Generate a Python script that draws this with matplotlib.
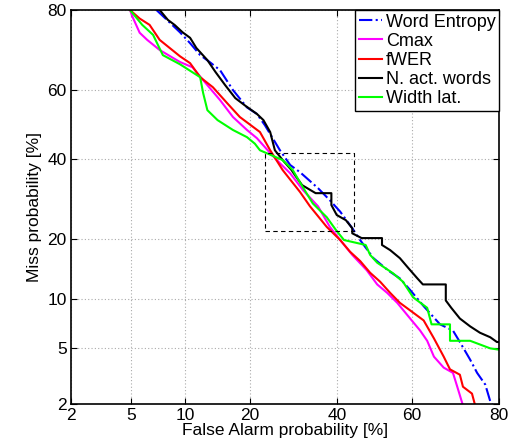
import numpy as np
import matplotlib
matplotlib.use("Agg")
import matplotlib.pyplot as plt
from statistics import NormalDist

# ---- data (False alarm %, Miss %) ----
we_fa = [7.0, 8.3, 9.4, 10.6, 11.9, 13.3, 14.8, 16.9, 19.4, 21.3, 22.9, 26.1, 28.4, 30.7, 35.1, 38.1,
         40.8, 44.0, 46.1, 49.7, 53.6, 56.8, 59.5, 63.0, 67.1, 70.2, 71.8, 74.1, 75.6, 77.3, 78.3, 78.7]
we_miss = [80, 77.3, 75.1, 72.5, 69.5, 67.6, 65.5, 60.0, 55.0, 53.1, 49.8, 42.5, 38.3, 36.3, 32.0, 28.9,
           26.1, 22.3, 19.8, 16.3, 14.2, 12.9, 11.2, 9.1, 7.1, 6.5, 5.5, 4.2, 3.4, 2.8, 2.1, 2.0]

cm_fa = [4.9, 5.1, 5.6, 6.2, 7.3, 9.4, 10.9, 12.3, 14.8, 16.9, 19.4, 21.3, 24.0, 26.1, 28.4, 31.4,
         35.1, 38.1, 40.8, 44.0, 47.9, 50.7, 53.4, 56.1, 59.5, 62.1, 63.9, 65.6, 68.0, 70.2, 71.2, 72.4]
cm_miss = [80, 78.4, 75.0, 73.3, 70.8, 67.7, 66.3, 62.8, 57.1, 52.2, 48.4, 46.0, 41.7, 38.8, 36.0, 31.5,
           27.4, 22.6, 19.8, 16.9, 14.2, 12.0, 10.8, 9.5, 7.7, 6.5, 5.6, 4.4, 3.7, 3.4, 2.7, 2.0]

fw_fa = [4.9, 5.6, 6.4, 7.3, 9.4, 10.6, 11.9, 13.7, 15.9, 18.1, 21.9, 24.0, 26.7, 30.7, 33.1, 37.3,
         40.8, 43.4, 46.1, 48.8, 51.5, 54.2, 56.8, 59.5, 63.0, 65.6, 68.0, 69.5, 71.8, 72.5, 74.5, 75.1]
fw_miss = [80, 78.2, 76.8, 73.3, 69.2, 67.4, 63.6, 60.8, 56.3, 52.2, 47.8, 42.5, 36.9, 31.0, 27.4, 22.6,
           19.8, 17.5, 15.8, 13.8, 12.4, 10.8, 9.5, 8.6, 7.5, 5.8, 4.4, 3.6, 3.3, 2.7, 2.4, 2.0]

na_fa = [7.3, 8.1, 8.8, 9.7, 10.6, 11.4, 12.9, 14.1, 15.6, 17.3, 19.0, 21.3, 22.6, 24.0, 25.0, 26.7,
         28.7, 29.8, 31.2, 34.5, 38.5, 38.5, 39.9, 42.3, 44.0, 44.0, 46.5, 52.0, 52.0, 54.2, 56.8, 59.0,
         61.4, 62.8, 68.5, 68.5, 69.8, 71.8, 74.1, 76.2, 78.3, 79.6, 80.0]
na_miss = [80, 77.9, 76.8, 75.1, 73.8, 71.3, 68.2, 65.0, 61.4, 57.7, 55.6, 53.1, 51.3, 47.8, 42.5, 39.7,
           36.9, 35.0, 32.8, 30.7, 30.7, 27.7, 25.3, 24.1, 22.3, 21.2, 20.2, 20.2, 18.8, 17.8, 16.3, 14.6,
           12.9, 12.0, 12.0, 9.8, 8.9, 7.7, 6.9, 6.3, 5.9, 5.5, 5.5]

wl_fa = [4.9, 5.8, 6.7, 7.6, 9.4, 11.9, 12.3, 12.9, 14.4, 16.9, 19.4, 20.9, 21.9, 23.2, 26.7, 29.0,
         31.4, 33.8, 37.3, 39.7, 41.8, 47.6, 48.8, 50.7, 55.0, 57.6, 60.3, 63.9, 65.0, 69.5, 69.5, 74.1,
         78.3, 80.0]
wl_miss = [80, 76.8, 74.5, 69.5, 67.1, 63.6, 59.2, 54.2, 51.3, 48.4, 46.3, 44.4, 42.5, 41.7, 39.7, 36.9,
           32.2, 28.1, 24.8, 21.9, 19.8, 18.8, 16.9, 15.5, 13.7, 12.4, 10.2, 8.9, 7.1, 7.1, 5.6, 5.6,
           5.0, 4.9]

zoom_fa = [23.0, 44.5]
zoom_miss = [21.6, 41.8]

tick_vals = [2, 5, 10, 20, 40, 60, 80]
tick_labels = ["2", "5", "10", "20", "40", "60", "80"]

# ---- probit scale ----
_nd = NormalDist()
_icdf = np.vectorize(_nd.inv_cdf, otypes=[float])
_cdf = np.vectorize(_nd.cdf, otypes=[float])

def fwd(p):
    p = np.clip(np.asarray(p, float) / 100.0, 1e-9, 1 - 1e-9)
    return _icdf(p)

def inv(z):
    return _cdf(np.asarray(z, float)) * 100.0

plt.rcParams['font.family'] = ['Liberation Sans', 'DejaVu Sans']
plt.rcParams['font.size'] = 12.5

fig = plt.figure(figsize=(5.09, 4.43), dpi=100)
ax = fig.add_axes([71/509, 1-404/443, (499-71)/509, (404-10)/443])
ax.set_xscale('function', functions=(fwd, inv))
ax.set_yscale('function', functions=(fwd, inv))

lw = 1.5
ax.plot(we_fa, we_miss, color=(0, 0, 1), ls='-.', lw=lw, label='Word Entropy')
ax.plot(cm_fa, cm_miss, color=(1, 0, 1), lw=lw, label='Cmax')
ax.plot(fw_fa, fw_miss, color=(1, 0, 0), lw=lw, label='fWER')
ax.plot(na_fa, na_miss, color='black', lw=lw, label='N. act. words')
ax.plot(wl_fa, wl_miss, color=(0, 1, 0), lw=lw, label='Width lat.')

ax.plot([zoom_fa[0], zoom_fa[1], zoom_fa[1], zoom_fa[0], zoom_fa[0]],
        [zoom_miss[0], zoom_miss[0], zoom_miss[1], zoom_miss[1], zoom_miss[0]],
        color='black', ls=(0, (4, 3)), lw=0.8)

ax.set_xlim(2, 80)
ax.set_ylim(2, 80)
ax.set_xticks(tick_vals)
ax.set_xticklabels(tick_labels)
ax.set_yticks(tick_vals)
ax.set_yticklabels(tick_labels)
ax.minorticks_off()
ax.tick_params(direction='in', length=4, top=True, right=True, pad=3)
ax.grid(True, color='#aaaaaa', ls=(0, (1, 2)), lw=0.8)
for s in ax.spines.values():
    s.set_linewidth(1.2)

ax.set_xlabel('False Alarm probability [%]', labelpad=0)
ax.set_ylabel('Miss probability [%]', labelpad=4)

leg = ax.legend(loc='upper right', frameon=True, fancybox=False, framealpha=1,
                edgecolor='black', borderaxespad=0, handlelength=1.3, handletextpad=0.2,
                labelspacing=0.12, borderpad=0.2, fontsize=13)
leg.get_frame().set_linewidth(1.0)

fig.savefig('out.png', dpi=100)
